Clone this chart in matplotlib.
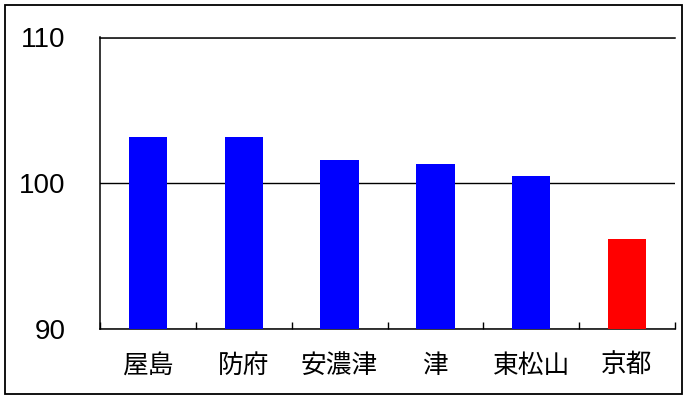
import matplotlib
matplotlib.use("Agg")
import matplotlib.pyplot as plt
from matplotlib.patches import Rectangle

categories = ["屋島", "防府", "安濃津", "津", "東松山", "京都"]
values = [103.2, 103.2, 101.6, 101.3, 100.5, 96.2]
colors = ["#0000FF", "#0000FF", "#0000FF", "#0000FF", "#0000FF", "#FF0000"]
yticks = [90, 100, 110]

W, H = 690, 400
fig = plt.figure(figsize=(W / 100, H / 100), dpi=100)
ax = fig.add_axes([100 / W, 1 - 329 / H, 575 / W, (329 - 37.5) / H])

x = list(range(len(categories)))
ax.bar(x, [v - 90 for v in values], bottom=90, width=0.40, color=colors, zorder=3)

ax.set_xlim(-0.5, len(categories) - 0.5)
ax.set_ylim(90, 110)
ax.set_yticks(yticks)
ax.set_yticklabels([str(t) for t in yticks], fontsize=20, family="Liberation Sans")
ax.tick_params(axis="y", length=0, pad=25)
ax.yaxis.grid(True, color="black", linewidth=1.0, zorder=1)
ax.set_axisbelow(True)

ax.set_xticks(x)
ax.set_xticklabels(categories, fontsize=18.5, family=["Noto Sans CJK JP", "DejaVu Sans"])
ax.tick_params(axis="x", which="major", length=0, pad=17)
ax.set_xticks([i + 0.5 for i in range(-1, len(categories))], minor=True)
ax.tick_params(axis="x", which="minor", direction="in", length=5, width=1.0, color="black")

for s in ["right"]:
    ax.spines[s].set_visible(False)
for s in ["left", "bottom", "top"]:
    ax.spines[s].set_color("black")
    ax.spines[s].set_linewidth(1.1)

fig.patches.append(Rectangle((5 / W, 1 - 394 / H), 677 / W, 389 / H, transform=fig.transFigure,
                             fill=False, edgecolor="black", linewidth=1.3))

fig.savefig("out.png", dpi=100)
